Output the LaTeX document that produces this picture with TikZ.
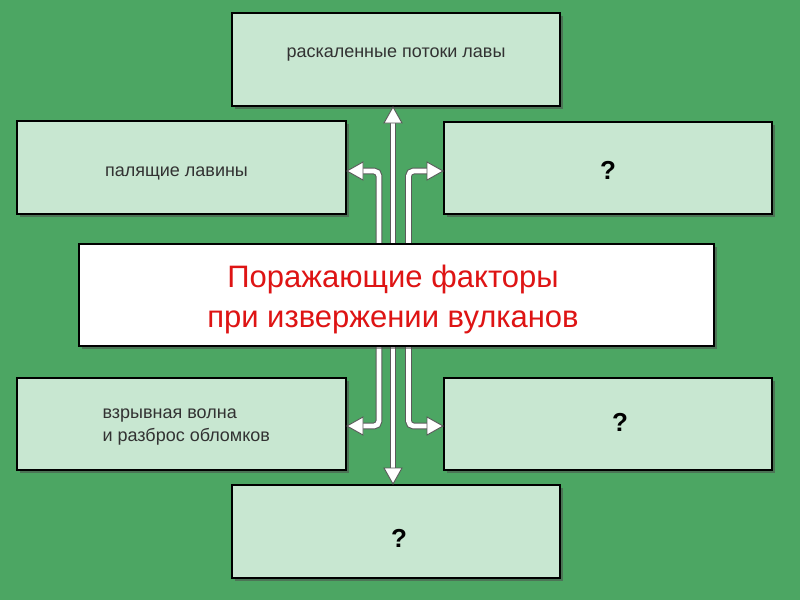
\documentclass[tikz,border=0pt]{standalone}
\usepackage{fontspec}
\setmainfont{Liberation Sans}
\usetikzlibrary{shadows,calc}
\definecolor{bggreen}{RGB}{76,166,99}
\definecolor{boxgreen}{RGB}{200,231,209}
\definecolor{redtxt}{RGB}{222,20,20}
\definecolor{txtgray}{RGB}{50,50,50}
\definecolor{edgegray}{RGB}{90,90,90}
\tikzset{
  fbox/.style={draw=black, line width=1.6pt, fill=boxgreen, inner sep=0pt,
    drop shadow={shadow xshift=2.5pt, shadow yshift=-2.5pt, opacity=0.55, fill=black!70}},
  lbl/.style={text=txtgray, font=\fontsize{18}{23}\selectfont, align=left},
  qm/.style={text=black, font=\fontsize{26}{30}\selectfont\bfseries},
  shaft/.style={draw=white, line width=4.8pt, rounded corners=5pt,
    preaction={draw=edgegray, line width=6.8pt}},
  head/.pic={\draw[fill=white, draw=edgegray, line width=0.9pt, line join=miter]
    (0,0) -- (-16,9) -- (-16,-9) -- cycle;}
}
\begin{document}
\begin{tikzpicture}[x=1pt,y=-1pt]
\fill[bggreen] (0,0) rectangle (800,600);
\useasboundingbox (0,0) rectangle (800,600);
% boxes
\path[fbox] (232,13) rectangle (560,106) coordinate[pos=0.5] (top);
\path[fbox] (17,121) rectangle (346,214) coordinate[pos=0.5] (lu);
\path[fbox] (444,122) rectangle (772,214) coordinate[pos=0.5] (ru);
\path[fbox] (17,378) rectangle (346,470) coordinate[pos=0.5] (ll);
\path[fbox] (444,378) rectangle (772,470) coordinate[pos=0.5] (rl);
\path[fbox] (232,485) rectangle (560,578) coordinate[pos=0.5] (bot);
% named anchor points of connectors
\coordinate (cTop) at (393,107);
\coordinate (cBot) at (393,484);
\coordinate (luTip) at (347,171);
\coordinate (ruTip) at (443,171);
\coordinate (llTip) at (347,426);
\coordinate (rlTip) at (443,426);
\coordinate (sLU) at (379,252);
\coordinate (sRU) at (408.5,252);
\coordinate (sLL) at (379,340);
\coordinate (sRL) at (408.5,340);
% shafts
\draw[shaft] ($(cTop)+(0,14)$) -- ($(cBot)+(0,-14)$);
\draw[shaft] (sLU) |- ($(luTip)+(14,0)$);
\draw[shaft] (sRU) |- ($(ruTip)+(-14,0)$);
\draw[shaft] (sLL) |- ($(llTip)+(14,0)$);
\draw[shaft] (sRL) |- ($(rlTip)+(-14,0)$);
% heads
\pic[rotate=90] at (cTop) {head};
\pic[rotate=-90] at (cBot) {head};
\pic[rotate=180] at (luTip) {head};
\pic at (ruTip) {head};
\pic[rotate=180] at (llTip) {head};
\pic at (rlTip) {head};
% central box
\node[draw=black, line width=1.6pt, fill=white, minimum width=635pt, minimum height=102pt,
  inner sep=0pt, drop shadow={shadow xshift=2.5pt, shadow yshift=-2.5pt, opacity=0.55, fill=black!70}]
  (center) at (396.5,295) {};
\node[text=redtxt, font=\fontsize{31}{40}\selectfont, align=center] (ctext) at (393,299)
  {Поражающие факторы\\при извержении вулканов};
% texts
\node[lbl] (tTop) at (396,55) {раскаленные потоки лавы};
\node[lbl] (tLU) at (176.5,173) {палящие лавины};
\node[lbl, anchor=west] (tLL) at (99,427) {взрывная волна\\и разброс обломков};
\node[qm] (tRU) at (608,170) {?};
\node[qm] (tRL) at (620,422) {?};
\node[qm] (tBot) at (399,538) {?};
\end{tikzpicture}
\end{document}
